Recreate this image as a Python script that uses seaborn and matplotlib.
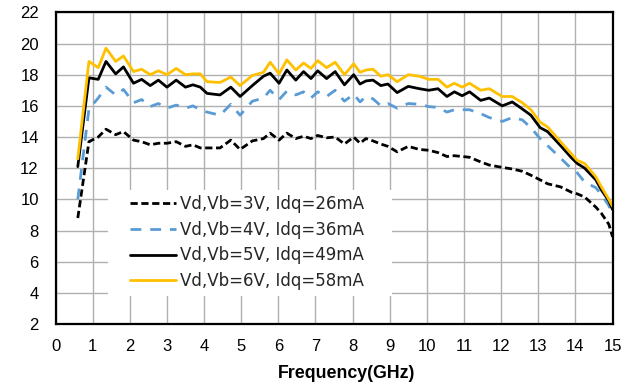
import numpy as np
import pandas as pd
import matplotlib
matplotlib.use("Agg")
import matplotlib.pyplot as plt
from matplotlib.patches import Rectangle
import seaborn as sns

freq = [0.6, 0.9, 1.15, 1.36, 1.62, 1.83, 2.1, 2.32, 2.55, 2.77, 3.0, 3.25, 3.5, 3.7, 3.9,
        4.08, 4.43, 4.72, 4.97, 5.3, 5.6, 5.78, 6.02, 6.23, 6.47, 6.68, 6.88, 7.06, 7.3, 7.53,
        7.78, 8.03, 8.2, 8.36, 8.55, 8.76, 8.95, 9.2, 9.5, 9.8, 10.05, 10.3, 10.54, 10.74, 10.95,
        11.15, 11.45, 11.68, 12.03, 12.3, 12.57, 12.8, 13.05, 13.25, 13.6, 13.9, 14.05, 14.25,
        14.55, 14.7, 14.9, 15.0]

gain_3v = [8.8, 13.7, 14.0, 14.5, 14.15, 14.35, 13.8, 13.7, 13.5, 13.6, 13.6, 13.7, 13.4, 13.5, 13.3,
           13.3, 13.3, 13.8, 13.2, 13.75, 13.9, 14.25, 13.8, 14.25, 13.9, 14.05, 13.9, 14.1, 13.95, 14.0,
           13.55, 14.0, 13.6, 13.9, 13.75, 13.55, 13.4, 13.05, 13.4, 13.2, 13.15, 13.0, 12.75, 12.8, 12.75,
           12.7, 12.4, 12.2, 12.05, 11.95, 11.8, 11.55, 11.25, 11.0, 10.8, 10.45, 10.35, 10.15,
           9.5, 9.1, 8.4, 7.6]

gain_4v = [10.0, 15.8, 16.5, 17.2, 16.7, 17.05, 16.2, 16.4, 15.95, 16.15, 15.85, 16.05, 15.85, 16.0, 15.75,
           15.6, 15.4, 16.1, 15.4, 16.3, 16.5, 17.0, 16.4, 16.95, 16.7, 16.9, 16.5, 16.9, 16.6, 17.0,
           16.3, 16.75, 16.25, 16.6, 16.45, 16.0, 16.15, 15.85, 16.15, 16.1, 15.95, 15.9, 15.6, 15.75, 15.75,
           15.75, 15.5, 15.25, 15.0, 15.25, 15.1, 14.6, 13.9, 13.45, 12.65, 11.95, 11.7, 11.1,
           10.75, 10.3, 9.6, 9.0]

gain_5v = [12.1, 17.8, 17.7, 18.85, 18.05, 18.5, 17.45, 17.7, 17.3, 17.65, 17.2, 17.65, 17.2, 17.35, 17.2,
           16.8, 16.7, 17.2, 16.6, 17.3, 17.9, 18.1, 17.45, 18.3, 17.65, 18.2, 17.75, 18.25, 17.75, 18.2,
           17.35, 18.0, 17.4, 17.6, 17.65, 17.3, 17.4, 16.85, 17.25, 17.1, 17.0, 17.1, 16.6, 16.9, 16.65,
           16.9, 16.35, 16.5, 16.0, 16.25, 15.8, 15.4, 14.6, 14.35, 13.45, 12.65, 12.3, 12.0,
           11.25, 10.6, 9.9, 9.35]

gain_6v = [12.6, 18.85, 18.45, 19.7, 18.85, 19.2, 18.2, 18.35, 18.0, 18.25, 18.0, 18.4, 18.0, 18.05, 18.05,
           17.55, 17.5, 17.85, 17.3, 17.95, 18.15, 18.8, 18.05, 18.95, 18.3, 18.75, 18.4, 18.9, 18.45, 18.8,
           18.0, 18.7, 18.15, 18.3, 18.35, 17.9, 18.0, 17.55, 18.0, 17.9, 17.7, 17.7, 17.2, 17.45, 17.2,
           17.45, 17.0, 17.1, 16.6, 16.6, 16.2, 15.75, 14.95, 14.65, 13.7, 12.9, 12.5, 12.3,
           11.45, 10.8, 10.0, 9.55]

labels = ["Vd,Vb=3V, Idq=26mA", "Vd,Vb=4V, Idq=36mA",
          "Vd,Vb=5V, Idq=49mA", "Vd,Vb=6V, Idq=58mA"]
x_ticks = list(range(0, 16))
y_ticks = list(range(2, 23, 2))

frames = []
for lab, g in zip(labels, [gain_3v, gain_4v, gain_5v, gain_6v]):
    frames.append(pd.DataFrame({"Frequency": freq, "Gain": g, "Bias": lab}))
df = pd.concat(frames, ignore_index=True)

sns.set_theme(style="white")
plt.rcParams['font.family'] = ['Liberation Sans', 'DejaVu Sans']

fig = plt.figure(figsize=(6.41, 3.86), dpi=100)
ax = fig.add_axes([0.0866, 0.1606, 0.869, 0.8074])

palette = {labels[0]: "black", labels[1]: "#5B9BD5", labels[2]: "black", labels[3]: "#FFC000"}
dashes = {labels[0]: (2.6, 1.3), labels[1]: (3.9, 3.2), labels[2]: "", labels[3]: ""}

sns.lineplot(data=df, x="Frequency", y="Gain", hue="Bias", style="Bias",
             palette=palette, dashes=dashes, hue_order=labels, style_order=labels,
             linewidth=2.0, ax=ax, sort=False, zorder=3)

ax.set_xlim(0, 15)
ax.set_ylim(2, 22)
ax.set_xticks(x_ticks)
ax.set_yticks(y_ticks)
ax.grid(True, color="#b0b0b0", linewidth=1.0)
ax.set_axisbelow(True)
for s in ax.spines.values():
    s.set_color("black")
    s.set_linewidth(1.6)
    s.set_zorder(5)
ax.tick_params(axis="both", length=0, labelsize=12, colors="black")
ax.tick_params(axis="x", pad=11)
ax.tick_params(axis="y", pad=12)
ax.set_xlabel("Frequency(GHz)", fontsize=12.8, fontweight="bold", color="black", labelpad=8)
ax.xaxis.label.set_x(0.522)
ax.set_ylabel("")

# white legend background box
ax.add_patch(Rectangle((0.0943, 0.09), 0.5097, 0.34, transform=ax.transAxes,
                       facecolor="white", edgecolor="none", zorder=1.5))

leg = ax.legend(loc="upper left", bbox_to_anchor=(0.1338, 0.415), frameon=False,
                prop={"family": ["DejaVu Sans"], "size": 12},
                handlelength=2.75, handletextpad=0.25, labelspacing=0.47,
                borderpad=0, borderaxespad=0)

fig.savefig("out.png", dpi=100)
